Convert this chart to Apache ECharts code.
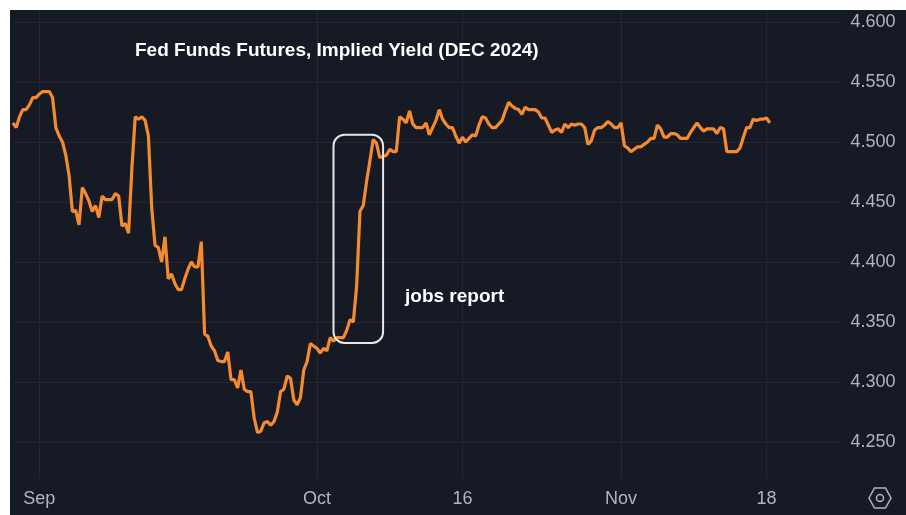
<!DOCTYPE html>
<html>
<head>
<meta charset="utf-8">
<script src="https://cdn.jsdelivr.net/npm/echarts@6/dist/echarts.min.js"></script>
<style>
  html, body { margin: 0; padding: 0; background: #ffffff; }
  #chart { position: absolute; left: 10px; top: 10px; width: 896px; height: 505px; }
</style>
</head>
<body>
<div id="chart"></div>
<script>
// tick labels on the time scale
const tickDays = ["2024-09-02", "2024-10-01", "2024-10-16", "2024-11-01", "2024-11-18"];
const tickLabels = ["Sep", "Oct", "16", "Nov", "18"];

// implied yield, 4 readings per trading day from Aug 29
const yields = [
  4.516, 4.512, 4.521, 4.527, 4.527, 4.531, 4.537, 4.537, 4.540, 4.542,
  4.542, 4.542, 4.537, 4.512, 4.505, 4.500, 4.489, 4.472, 4.442, 4.443,
  4.431, 4.462, 4.457, 4.451, 4.442, 4.447, 4.437, 4.455, 4.452, 4.452,
  4.452, 4.457, 4.455, 4.430, 4.432, 4.424, 4.478, 4.521, 4.519, 4.521,
  4.518, 4.505, 4.445, 4.414, 4.412, 4.400, 4.421, 4.386, 4.390, 4.382,
  4.377, 4.377, 4.386, 4.394, 4.400, 4.396, 4.396, 4.417, 4.340, 4.338,
  4.330, 4.326, 4.318, 4.317, 4.317, 4.325, 4.302, 4.302, 4.295, 4.310,
  4.294, 4.292, 4.292, 4.270, 4.258, 4.259, 4.266, 4.267, 4.264, 4.267,
  4.275, 4.292, 4.294, 4.305, 4.303, 4.285, 4.281, 4.287, 4.310, 4.317,
  4.332, 4.330, 4.328, 4.324, 4.328, 4.326, 4.337, 4.334, 4.337, 4.337,
  4.337, 4.343, 4.352, 4.350, 4.380, 4.442, 4.447, 4.467, 4.484, 4.502,
  4.499, 4.487, 4.488, 4.489, 4.494, 4.492, 4.492, 4.521, 4.519, 4.516,
  4.526, 4.515, 4.512, 4.512, 4.512, 4.516, 4.506, 4.512, 4.518, 4.527,
  4.519, 4.515, 4.512, 4.512, 4.505, 4.499, 4.504, 4.500, 4.503, 4.506,
  4.505, 4.514, 4.521, 4.520, 4.515, 4.512, 4.512, 4.515, 4.518, 4.526,
  4.533, 4.530, 4.528, 4.527, 4.523, 4.529, 4.527, 4.527, 4.527, 4.525,
  4.520, 4.520, 4.514, 4.508, 4.510, 4.511, 4.508, 4.515, 4.512, 4.515,
  4.514, 4.515, 4.515, 4.512, 4.498, 4.501, 4.510, 4.512, 4.512, 4.514,
  4.517, 4.515, 4.512, 4.512, 4.516, 4.497, 4.495, 4.492, 4.494, 4.496,
  4.496, 4.498, 4.500, 4.503, 4.503, 4.514, 4.511, 4.504, 4.504, 4.507,
  4.507, 4.506, 4.503, 4.503, 4.503, 4.508, 4.512, 4.516, 4.512, 4.509,
  4.511, 4.511, 4.511, 4.507, 4.512, 4.511, 4.492, 4.492, 4.492, 4.492,
  4.495, 4.504, 4.512, 4.512, 4.519, 4.518, 4.519, 4.519, 4.520, 4.516,
];

// the "jobs report" box, in slot index / yield
const boxSlots = [97.3, 111.5];
const boxYields = [4.3325, 4.506];

const orange = "#f68a2e";
const textGray = "#b2b5be";
const gridGray = "#232733";
const font = "Liberation Sans";

// one slot every 6 hours on each weekday, running a week past the data
function buildSlots() {
  const slots = [];
  const d = new Date(Date.UTC(2024, 7, 29));
  const end = Date.UTC(2024, 10, 25);
  while (d.getTime() <= end) {
    const wd = d.getUTCDay();
    if (wd !== 0 && wd !== 6) {
      const day = d.toISOString().slice(0, 10);
      for (let h = 0; h < 24; h += 6) {
        slots.push(day + " " + String(h).padStart(2, "0") + ":00");
      }
    }
    d.setUTCDate(d.getUTCDate() + 1);
  }
  return slots;
}

const slots = buildSlots();
const tickMap = {};
tickDays.forEach((day, i) => (tickMap[day + " 00:00"] = tickLabels[i]));
const isTick = (index, value) => tickMap[value] !== undefined;

const chart = echarts.init(document.getElementById("chart"));
chart.setOption({
  backgroundColor: "#161a25",
  animation: false,
  title: {
    text: "Fed Funds Futures, Implied Yield (DEC 2024)",
    left: 120,
    top: 26,
    textStyle: { color: "#ffffff", fontSize: 19, fontWeight: "bold", fontFamily: font },
  },
  grid: { left: 2.9, right: 63.5, top: 0, bottom: 37 },
  xAxis: {
    type: "category",
    data: slots,
    boundaryGap: false,
    axisLine: { show: false },
    axisTick: { show: false },
    axisLabel: {
      interval: isTick,
      formatter: (value) => tickMap[value] || "",
      color: textGray,
      fontSize: 18,
      fontFamily: font,
      verticalAlign: "middle",
      margin: 21,
    },
    splitLine: { show: true, interval: isTick, lineStyle: { color: gridGray, width: 1 } },
  },
  yAxis: {
    type: "value",
    position: "right",
    min: 4.22,
    max: 4.61,
    splitNumber: 8,
    axisLine: { show: false },
    axisTick: { show: false },
    axisLabel: {
      showMinLabel: false,
      showMaxLabel: false,
      formatter: (v) => v.toFixed(3),
      color: textGray,
      fontSize: 18,
      fontFamily: font,
      margin: 8,
    },
    splitLine: {
      lineStyle: {
        color: ["transparent", gridGray, gridGray, gridGray, gridGray, gridGray, gridGray, gridGray, gridGray, "transparent"],
      },
    },
  },
  series: [
    {
      type: "line",
      data: yields,
      showSymbol: false,
      lineStyle: { color: orange, width: 3.2 },
      z: 3,
    },
  ],
});

const p0 = chart.convertToPixel({ gridIndex: 0 }, [boxSlots[0], boxYields[1]]);
const p1 = chart.convertToPixel({ gridIndex: 0 }, [boxSlots[1], boxYields[0]]);

chart.setOption({
  graphic: [
    {
      type: "rect",
      shape: { x: p0[0], y: p0[1], width: p1[0] - p0[0], height: p1[1] - p0[1], r: 11 },
      style: { fill: "transparent", stroke: "#e8e8e8", lineWidth: 2 },
      z: 10,
    },
    {
      type: "text",
      left: 395,
      top: 277,
      style: { text: "jobs report", fill: "#ffffff", font: "bold 19px " + font },
      z: 10,
    },
    {
      type: "group",
      x: 870,
      y: 488,
      children: [
        {
          type: "polygon",
          shape: { points: [[-11, 0], [-5.5, -10], [5.5, -10], [11, 0], [5.5, 10], [-5.5, 10]] },
          style: { fill: "transparent", stroke: textGray, lineWidth: 1.5 },
        },
        {
          type: "circle",
          shape: { cx: 0, cy: 0, r: 3.5 },
          style: { fill: "transparent", stroke: textGray, lineWidth: 1.5 },
        },
      ],
    },
  ],
});
</script>
</body>
</html>
